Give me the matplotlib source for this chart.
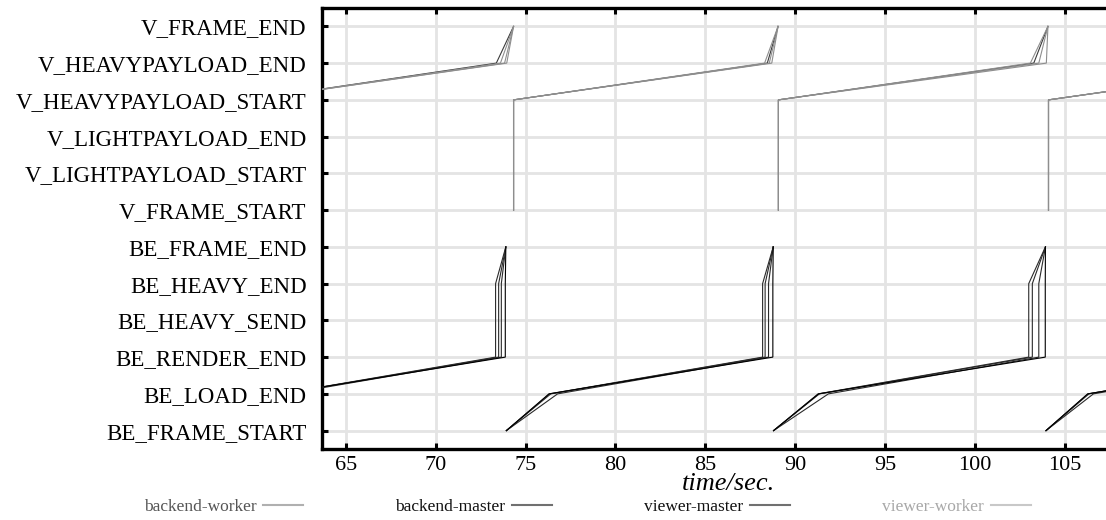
import matplotlib
matplotlib.use("Agg")
import matplotlib.pyplot as plt
from matplotlib.lines import Line2D

# ---------------- data ----------------
y_labels = ['BE_FRAME_START', 'BE_LOAD_END', 'BE_RENDER_END', 'BE_HEAVY_SEND',
            'BE_HEAVY_END', 'BE_FRAME_END', 'V_FRAME_START', 'V_LIGHTPAYLOAD_START',
            'V_LIGHTPAYLOAD_END', 'V_HEAVYPAYLOAD_START', 'V_HEAVYPAYLOAD_END', 'V_FRAME_END']
be_events = y_labels[:6]
v_events = y_labels[6:]
x_ticks = [65, 70, 75, 80, 85, 90, 95, 100, 105]

# each row = one frame of one process: times of the six events (seconds)
backend_worker = [
    # worker 1
    [59.00, 61.40, 73.33, 73.33, 73.33, 73.90],
    [73.93, 76.33, 88.19, 88.19, 88.19, 88.78],
    [88.80, 91.28, 103.00, 103.00, 103.00, 103.93],
    [103.96, 106.30, 118.30, 118.30, 118.30, 118.90],
    # worker 2
    [59.00, 61.45, 73.50, 73.50, 73.50, 73.90],
    [73.93, 76.40, 88.33, 88.33, 88.33, 88.78],
    [88.80, 91.35, 103.20, 103.20, 103.20, 103.93],
    [103.96, 106.35, 118.40, 118.40, 118.40, 118.90],
    # worker 3
    [59.00, 61.70, 73.65, 73.65, 73.65, 73.90],
    [73.93, 76.78, 88.52, 88.52, 88.52, 88.78],
    [88.80, 91.85, 103.56, 103.56, 103.56, 103.93],
    [103.96, 106.60, 118.60, 118.60, 118.60, 118.90],
]
backend_master = [
    [59.00, 61.35, 73.87, 73.87, 73.87, 73.90],
    [73.93, 76.30, 88.76, 88.76, 88.76, 88.78],
    [88.80, 91.30, 103.92, 103.92, 103.92, 103.93],
    [103.96, 106.28, 118.80, 118.80, 118.80, 118.90],
]
viewer_master = [
    [59.60, 59.60, 59.60, 59.60, 73.37, 74.33],
    [74.33, 74.33, 74.33, 74.33, 88.45, 89.05],
    [89.07, 89.07, 89.07, 89.07, 103.28, 104.07],
    [104.10, 104.10, 104.10, 104.10, 118.40, 119.00],
]
viewer_worker = [
    [59.60, 59.60, 59.60, 59.60, 73.60, 74.33],
    [74.33, 74.33, 74.33, 74.33, 88.30, 89.05],
    [89.07, 89.07, 89.07, 89.07, 103.09, 104.07],
    [104.10, 104.10, 104.10, 104.10, 118.30, 119.00],
    [59.60, 59.60, 59.60, 59.60, 73.83, 74.33],
    [74.33, 74.33, 74.33, 74.33, 88.56, 89.05],
    [89.07, 89.07, 89.07, 89.07, 103.56, 104.07],
    [104.10, 104.10, 104.10, 104.10, 118.60, 119.00],
    [59.60, 59.60, 59.60, 59.60, 73.95, 74.33],
    [74.33, 74.33, 74.33, 74.33, 88.70, 89.05],
    [89.07, 89.07, 89.07, 89.07, 103.98, 104.07],
    [104.10, 104.10, 104.10, 104.10, 118.70, 119.00],
]

series_names = ['backend-worker', 'backend-master', 'viewer-master', 'viewer-worker']
series_data = [backend_worker, backend_master, viewer_master, viewer_worker]
series_events = [be_events, be_events, v_events, v_events]
series_colors = ['#2a2a2a', '#000000', '#3a3a3a', '#8e8e8e']
legend_line_colors = ['#b0b0b0', '#707070', '#707070', '#c8c8c8']
legend_text_colors = ['#555555', '#111111', '#111111', '#a8a8a8']

# ---------------- plot ----------------
plt.rcParams['font.family'] = ['Liberation Serif', 'DejaVu Serif']
fig = plt.figure(figsize=(11.06, 5.20), dpi=100)
ax = fig.add_axes([322 / 1106, 1 - 449 / 520, 1 - 322 / 1106, (449 - 8) / 520])

level = {name: i for i, name in enumerate(y_labels)}

for name, data, events, color in zip(series_names, series_data, series_events, series_colors):
    ys = [level[e] for e in events]
    for frame in data:
        ax.plot(frame, ys, color=color, lw=0.8, solid_joinstyle='miter', zorder=3)

ax.set_xlim(63.67, 107.3)
ax.set_ylim(-0.5, 11.5)
ax.set_yticks(range(len(y_labels)))
ax.set_yticklabels(y_labels)
ax.set_xticks(x_ticks)

ax.grid(True, color='#e4e4e4', lw=2.0)
ax.set_axisbelow(True)

for s in ['left', 'top', 'bottom']:
    ax.spines[s].set_linewidth(2.4)
    ax.spines[s].set_color('black')
ax.spines['right'].set_visible(False)

ax.tick_params(axis='both', direction='in', length=4, width=2.2)
ax.tick_params(axis='y', labelsize=16.5, pad=11)
ax.tick_params(axis='x', top=True, pad=5, labelsize=16)

ax.set_xlabel('time/sec.', fontsize=19, style='italic')
ax.xaxis.label.set_va('center')
ax.xaxis.set_label_coords((728 - 322) / (1106 - 322), -(484 - 449) / 441)

handles = [Line2D([], [], color=c, lw=1.5) for c in legend_line_colors]
leg = fig.legend(handles, series_names, loc='center', bbox_to_anchor=(0.531, 0.025),
                 ncol=4, frameon=False, markerfirst=False, fontsize=12.5,
                 handlelength=2.3, handletextpad=0.4, columnspacing=5.3)
for t, c in zip(leg.get_texts(), legend_text_colors):
    t.set_color(c)

fig.savefig('out.png', dpi=100)
